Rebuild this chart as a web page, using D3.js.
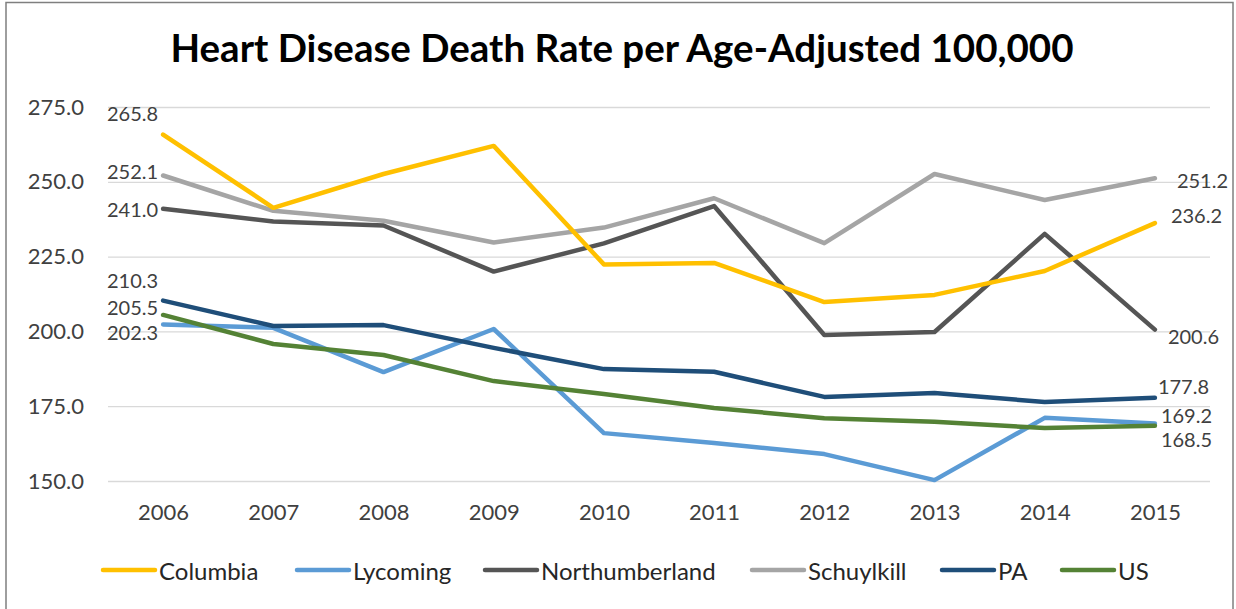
<!DOCTYPE html>
<html><head><meta charset="utf-8">
<script src="https://cdn.jsdelivr.net/npm/d3@7"></script>
<style>
html,body{margin:0;padding:0;background:#fff;}
svg{display:block;font-family:Lato,"Open Sans",sans-serif;}
</style></head>
<body>
<svg id="chart" width="1236" height="609"></svg>
<script>
const years = ["2006","2007","2008","2009","2010","2011","2012","2013","2014","2015"];
const seriesNames = ["Columbia","Lycoming","Northumberland","Schuylkill","PA","US"];
const columbia       = [265.8,241.3,252.6,262.0,222.4,222.9,209.8,212.2,220.2,236.2];
const lycoming       = [202.3,201.2,186.4,200.8,166.0,162.7,159.0,150.3,171.1,169.2];
const northumberland = [241.0,236.7,235.4,220.0,229.4,241.9,198.8,199.8,232.6,200.6];
const schuylkill     = [252.1,240.3,237.0,229.7,234.7,244.5,229.5,252.6,243.9,251.2];
const pa             = [210.3,201.8,202.1,194.5,187.4,186.5,178.1,179.4,176.4,177.8];
const us             = [205.5,195.8,192.1,183.4,179.1,174.4,171.0,169.8,167.7,168.5];
const yTicks = [150,175,200,225,250,275];
const titleText = "Heart Disease Death Rate per Age-Adjusted 100,000";

const values = [columbia, lycoming, northumberland, schuylkill, pa, us];
const colors = ["#FFC000","#5B9BD5","#555555","#A5A5A5","#1F4E79","#548235"];
// label placement (style, not data): first label [dx, dy], last label [dx, dy]
const firstPos = [[-5,-22],[-5,7.5],[-5,0],[-5,-5],[-5,-21],[-5,-7.5]];
const lastPos  = [[16,-8],[6,-9],[13,6],[22,2],[3,-12],[6,13.5]];

const svg = d3.select("#chart");

// frame
svg.append("rect").attr("x",6).attr("y",2.5).attr("width",1227).attr("height",640)
  .attr("fill","none").attr("stroke","#7f7f7f").attr("stroke-width",1.5);

const x = d3.scalePoint().domain(years).range([108,1210]).padding(0.5);
const y = d3.scaleLinear().domain([150,275]).range([481,107]);

// title
svg.append("text").attr("x",622).attr("y",62).attr("text-anchor","middle")
  .attr("font-size",38.5).attr("font-weight","bold").attr("fill","#000")
  .text(titleText);

// grid
const grid = svg.append("g").attr("transform","translate(108,0)")
  .call(d3.axisLeft(y).tickValues(yTicks).tickSize(-1102).tickFormat(""));
grid.select(".domain").remove();
grid.selectAll("line").attr("stroke","#d9d9d9").attr("stroke-width",1.3);

// y axis labels
const ya = svg.append("g").attr("transform","translate(108,0)")
  .call(d3.axisLeft(y).tickValues(yTicks).tickSize(0).tickPadding(24).tickFormat(d3.format(".1f")));
ya.select(".domain").remove();
ya.selectAll("text").attr("font-size",22).attr("fill","#404040").attr("font-family","Lato,sans-serif");

// x axis labels
const xa = svg.append("g").attr("transform","translate(0,481)")
  .call(d3.axisBottom(x).tickSize(0).tickPadding(23));
xa.select(".domain").remove();
xa.selectAll("text").attr("font-size",22).attr("fill","#404040").attr("font-family","Lato,sans-serif");

// lines
const line = d3.line().x((d,i)=>x(years[i])).y(d=>y(d));
const order = [3,2,0,1,5,4];
order.forEach(k=>{
  svg.append("path").datum(values[k]).attr("d",line)
    .attr("fill","none").attr("stroke",colors[k]).attr("stroke-width",4.5)
    .attr("stroke-linejoin","round").attr("stroke-linecap","round");
});

// data labels
const lbl = svg.append("g").attr("font-size",20).attr("fill","#404040");
values.forEach((v,k)=>{
  const p = firstPos[k];
  lbl.append("text").attr("x",x(years[0])+p[0]).attr("y",y(v[0])+p[1])
    .attr("text-anchor","end").attr("dominant-baseline","central")
    .text(d3.format(".1f")(v[0]));
  const q = lastPos[k];
  lbl.append("text").attr("x",x(years[9])+q[0]).attr("y",y(v[9])+q[1])
    .attr("text-anchor","start").attr("dominant-baseline","central")
    .text(d3.format(".1f")(v[9]));
});

// legend
const legendX = [103,297,485,752,942,1062];
const lg = svg.append("g").attr("font-size",24).attr("fill","#262626");
seriesNames.forEach((n,k)=>{
  lg.append("line").attr("x1",legendX[k]).attr("x2",legendX[k]+52).attr("y1",570).attr("y2",570)
    .attr("stroke",colors[k]).attr("stroke-width",4.5).attr("stroke-linecap","round");
  lg.append("text").attr("x",legendX[k]+56).attr("y",570).attr("dominant-baseline","central").text(n);
});
</script>
</body></html>
